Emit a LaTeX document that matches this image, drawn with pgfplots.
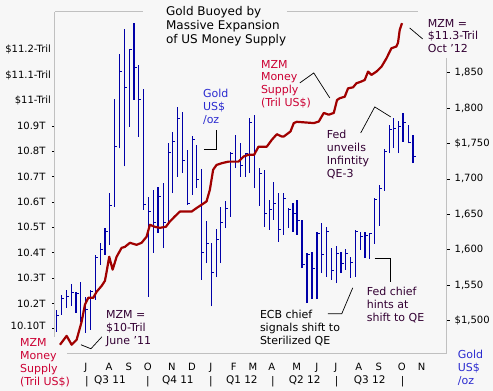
\documentclass[border=0pt]{standalone}
\usepackage{pgfplots}
\pgfplotsset{compat=1.18}
\usepackage{pgfplotstable}
\usepackage{fontspec}
\setmainfont{DejaVu Sans}
\definecolor{bg}{HTML}{F7F7F7}
\definecolor{goldblue}{HTML}{0000A8}
\definecolor{mzmred}{HTML}{A00000}
\definecolor{lblred}{HTML}{CC0033}
\definecolor{lblblue}{HTML}{2B2BD0}
\definecolor{annot}{HTML}{330033}
\definecolor{framec}{HTML}{C0C0C0}

\pgfdeclareplotmark{closetick}{\pgfpathmoveto{\pgfpointorigin}\pgfpathlineto{\pgfpoint{2.6pt}{0pt}}\pgfusepathqstroke}

% weekly gold bars: x position (chart units), high, low, close (US$/oz)
\pgfplotstableread{
x high low close
56.7 1515.1 1484.1 1506.6
61.5 1536.3 1508.0 1530.6
66.3 1543.3 1517.9 1533.4
71.2 1551.8 1520.7 1539.1
76.0 1540.5 1510.9 1537.7
80.8 1554.6 1498.2 1503.8
85.7 1533.4 1482.6 1515.1
90.5 1543.3 1486.9 1540.5
95.3 1592.7 1529.2 1588.5
100.2 1609.6 1578.6 1599.8
105.0 1630.8 1592.7 1625.2
109.8 1680.2 1606.8 1661.9
114.7 1812.9 1660.5 1745.7
119.5 1876.4 1742.9 1851.0
124.3 1911.6 1717.5 1828.4
129.2 1883.4 1773.3 1883.4
134.0 1920.1 1811.5 1856.6
138.8 1860.9 1759.3 1811.5
143.7 1827.0 1656.2 1663.3
148.5 1674.6 1533.4 1653.4
153.3 1684.5 1595.5 1637.9
158.2 1688.7 1623.8 1674.6
163.3 1693.9 1602.2 1638.3
168.3 1751.2 1635.1 1737.1
172.7 1765.9 1679.8 1752.6
177.3 1802.0 1702.8 1785.6
182.3 1794.9 1708.0 1725.8
187.3 1740.9 1663.3 1665.7
192.3 1760.7 1677.4 1755.0
197.0 1748.0 1687.3 1698.6
201.3 1713.7 1557.4 1596.5
206.3 1640.7 1581.0 1608.2
211.7 1609.2 1519.8 1567.7
216.7 1629.0 1561.2 1614.9
221.0 1660.9 1581.0 1638.3
225.3 1668.9 1630.4 1658.6
230.3 1738.5 1646.8 1736.2
235.3 1762.1 1715.1 1724.4
240.3 1750.3 1703.2 1718.3
245.3 1736.2 1703.2 1736.2
249.7 1785.6 1708.0 1780.0
254.3 1790.3 1686.8 1738.5
259.3 1715.1 1661.9 1707.0
264.3 1712.7 1632.7 1651.6
269.3 1670.3 1628.0 1656.2
273.7 1696.2 1642.1 1665.7
278.7 1679.8 1611.5 1629.0
283.3 1679.8 1620.9 1672.7
288.7 1658.6 1630.4 1656.2
293.3 1665.7 1625.6 1651.6
297.3 1670.3 1620.9 1641.1
302.3 1642.1 1573.9 1579.6
307.3 1595.1 1524.6 1592.7
312.3 1597.4 1530.2 1573.9
317.3 1625.6 1530.2 1623.3
322.0 1637.5 1566.9 1592.7
326.7 1632.7 1562.1 1625.6
331.7 1602.2 1557.4 1570.1
336.7 1605.4 1552.8 1594.1
341.3 1597.4 1566.9 1581.0
346.0 1600.8 1571.5 1594.1
350.7 1590.3 1559.8 1581.8
355.7 1628.0 1562.1 1625.6
360.7 1625.6 1599.8 1618.5
365.3 1625.6 1588.1 1619.5
370.0 1624.2 1586.6 1622.4
374.7 1672.7 1608.2 1670.3
380.0 1691.5 1633.6 1686.8
384.7 1741.9 1683.5 1738.5
389.7 1776.2 1736.2 1770.1
394.0 1785.6 1743.3 1771.5
399.0 1782.2 1736.2 1773.8
403.3 1792.7 1752.6 1779.4
409.0 1776.2 1750.3 1751.2
413.3 1762.1 1722.1 1731.4
}\gold

% MZM money supply, trillion US$
\pgfplotstableread{
x mzm
60.0 10.037
66.7 10.072
71.7 10.037
76.7 10.057
81.7 10.128
85.0 10.195
88.3 10.222
93.3 10.222
96.7 10.246
101.7 10.269
105.0 10.289
106.7 10.325
109.3 10.384
112.7 10.333
116.7 10.384
121.7 10.419
125.0 10.423
130.0 10.439
136.7 10.431
141.7 10.439
146.7 10.463
150.0 10.510
155.0 10.502
160.0 10.498
166.0 10.502
170.0 10.523
175.0 10.543
180.0 10.562
191.7 10.562
196.7 10.576
201.7 10.589
206.7 10.602
210.0 10.648
213.3 10.727
216.7 10.746
222.0 10.753
228.7 10.759
238.7 10.759
243.7 10.779
248.7 10.786
254.3 10.786
258.7 10.818
267.0 10.818
272.0 10.845
277.0 10.867
282.0 10.858
284.0 10.858
290.7 10.878
294.0 10.911
297.0 10.916
314.0 10.911
319.0 10.917
324.0 10.951
329.0 10.944
334.0 10.951
337.3 11.002
340.0 11.009
345.0 11.015
348.3 11.048
353.3 11.052
356.7 11.068
361.7 11.075
365.0 11.081
368.3 11.114
371.7 11.101
376.7 11.114
381.7 11.133
386.7 11.166
391.7 11.206
396.7 11.213
398.3 11.228
400.0 11.278
402.3 11.305
}\mzm

\begin{document}
\begin{tikzpicture}
\fill[bg] (-55pt,-37pt) rectangle (438pt,354pt);

% Gold axis (right)
\begin{axis}[
  at={(0pt,0pt)}, anchor=south west, scale only axis,
  width=392pt, height=342pt,
  xmin=55, xmax=447, ymin=1453, ymax=1935.7,
  axis y line*=right, axis x line=none,
  axis line style={draw=none},
  ytick={1500,1550,1600,1650,1700,1750,1800,1850},
  yticklabels={{\$1,500},{1,550},{1,600},{1,650},{1,700},{\$1,750},{1,800},{1,850}},
  tick align=outside, major tick length=3pt,
  ytick style={black, line width=0.7pt},
  yticklabel style={font=\fontsize{10}{12}\selectfont, black, xshift=1.5pt},
]
\addplot[draw=none, mark=none,
  error bars/.cd, y dir=plus, y explicit, error mark=none,
  error bar style={draw=goldblue, line width=1.2pt}]
  table[x=x, y=low, y error expr=\thisrow{high}-\thisrow{low}] {\gold};
\addplot[only marks, mark=closetick, mark options={draw=goldblue, line width=1pt}]
  table[x=x, y=close] {\gold};
\end{axis}

% MZM axis (left)
\begin{axis}[
  at={(0pt,0pt)}, anchor=south west, scale only axis,
  width=392pt, height=342pt,
  xmin=55, xmax=447, ymin=10.0015, ymax=11.349,
  axis y line*=left, axis x line*=bottom,
  axis line style={draw=none},
  ytick={10.1,10.2,10.3,10.4,10.5,10.6,10.7,10.8,10.9},
  yticklabels={\raisebox{5pt}{10.10T},10.2T,10.3T,10.4T,10.5T,10.6T,10.7T,10.8T,10.9T},
  extra y ticks={11,11.1,11.2},
  extra y tick labels={\hspace*{-2pt}\$11-Tril\hspace*{-2.5pt},\hspace*{-2pt}\$11.1-Tril\hspace*{-2.5pt},\hspace*{-2pt}\$11.2-Tril\hspace*{-2.5pt}},
  extra y tick style={major tick length=0pt},
  tick align=outside, major tick length=3pt,
  ytick style={black, line width=0.7pt},
  yticklabel style={font=\fontsize{10}{12}\selectfont, black, xshift=-3pt},
  xtick={86,109,129,148,172,192,211,234,253,272,297,317,336,359,379,402,422},
  xticklabels={J,A,S,O,N,D,J,F,M,A,M,J,J,A,S,O,N},
  xtick style={draw=none},
  xticklabel style={font=\fontsize{10}{12}\selectfont, black, text height=7.5pt, text depth=0pt, inner sep=0pt, yshift=-6.5pt},
]
\addplot[mzmred, line width=2.2pt, line join=round] table[x=x, y=mzm] {\mzm};
\end{axis}

\begin{scope}[shift={(-55pt,354pt)}, x=1pt, y=-1pt]
  % frame pieces
  \draw[framec, line width=1pt] (55,12) -- (143,12);
  \draw[framec, line width=1pt] (287,12) -- (418,12);
  \draw[framec, line width=1pt] (55,12) -- (55,337);
  \draw[framec, line width=1pt] (447,58) -- (447,354);
  \draw[framec, line width=1pt] (67,354) -- (447,354);

  % title
  \node[anchor=north west, inner sep=0pt, align=left, font=\fontsize{12}{14}\selectfont] at (166,6)
    {Gold Buoyed by\\Massive Expansion\\of US Money Supply};

  % annotations
  \node[anchor=north west, inner sep=0pt, align=left, text=annot, font=\fontsize{11}{12.8}\selectfont] at (428,19)
    {MZM =\\\$11.3-Tril\\Oct '12};
  \draw[black, line width=0.7pt] (410,28) -- (423,39);

  \node[anchor=north west, inner sep=0pt, align=left, text=lblred, font=\fontsize{11}{12.8}\selectfont] at (261,60)
    {MZM\\Money\\Supply\\(Tril US\$)};
  \draw[black, line width=0.7pt] (300,83) -- (314,73) -- (330,98);

  \node[anchor=north west, inner sep=0pt, align=left, text=lblblue, font=\fontsize{11}{12.8}\selectfont] at (203,89)
    {Gold\\US\$\\/oz};
  \draw[black, line width=0.7pt] (204,149) -- (217,149) -- (217,130);

  \node[anchor=north west, inner sep=0pt, align=left, text=annot, font=\fontsize{11}{13}\selectfont] at (327,130)
    {Fed\\unveils\\Infintity\\QE-3};
  \draw[black, line width=0.7pt] (361,133) -- (375,107) -- (391,117);

  \node[anchor=north west, inner sep=0pt, align=left, text=annot, font=\fontsize{11}{13}\selectfont] at (367,287)
    {Fed chief\\hints at\\shift to QE};
  \draw[black, line width=0.7pt] (375,259) -- (391,259) -- (391,282);

  \node[anchor=north west, inner sep=0pt, align=left, text=black, font=\fontsize{11}{13}\selectfont] at (260,310)
    {ECB chief\\signals shift to\\Sterilized QE};
  \draw[black, line width=0.7pt] (328,314) -- (342,314) -- (353,288);

  \node[anchor=north west, inner sep=0pt, align=left, text=annot, font=\fontsize{11}{13}\selectfont] at (106,311)
    {MZM =\\\$10-Tril\\June '11};
  \draw[black, line width=0.7pt] (81,345) -- (91,349) -- (102,337);

  \node[anchor=north west, inner sep=0pt, align=left, text=lblred, font=\fontsize{11}{13}\selectfont] at (20,339)
    {MZM\\Money\\Supply\\(Tril US\$)};

  \node[anchor=north west, inner sep=0pt, align=left, text=lblblue, font=\fontsize{11}{13}\selectfont] at (458,350)
    {Gold\\US\$\\/oz};

  % quarter row
  \begin{scope}[font=\fontsize{10.5}{12}\selectfont]
    \foreach \qx in {87,148,211,273,337,403} {\node[anchor=base, inner sep=0pt] at (\qx,385) {|};}
    \node[anchor=base, inner sep=0pt] at (110,384) {Q3 11};
    \node[anchor=base, inner sep=0pt] at (178,384) {Q4 11};
    \node[anchor=base, inner sep=0pt] at (242,384) {Q1 12};
    \node[anchor=base, inner sep=0pt] at (305,384) {Q2 12};
    \node[anchor=base, inner sep=0pt] at (370,384) {Q3 12};
  \end{scope}
\end{scope}
\end{tikzpicture}
\end{document}
